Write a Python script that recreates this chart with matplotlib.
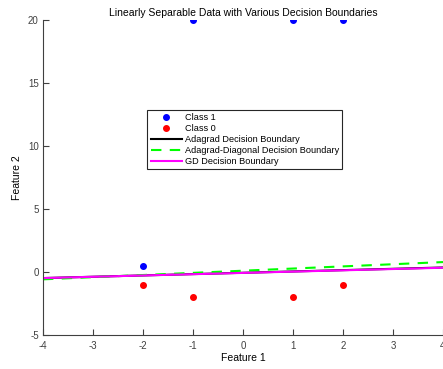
import matplotlib
matplotlib.use("Agg")
import matplotlib.pyplot as plt

plt.rcParams['font.family'] = ['Liberation Sans', 'DejaVu Sans']
plt.rcParams['axes.unicode_minus'] = False

# data points
class1_x = [-1, 1, 2, -2]
class1_y = [20, 20, 20, 0.5]
class0_x = [-2, -1, 1, 2]
class0_y = [-1, -2, -2, -1]

# decision boundaries (endpoints over the x range)
line_x = [-4, 4]
adagrad_y = [-0.48, 0.36]
adadiag_y = [-0.58, 0.79]
gd_y = [-0.48, 0.34]

fig = plt.figure(figsize=(4.43, 3.69), dpi=100)
ax = fig.add_axes([0.097, 0.092, 0.903, 0.854])

ax.plot(class1_x, class1_y, 'o', color='#0000ff', markersize=4, label='Class 1')
ax.plot(class0_x, class0_y, 'o', color='#ff0000', markersize=4, label='Class 0')
ax.plot(line_x, adagrad_y, '-', color='black', lw=1.5, label='Adagrad Decision Boundary')
ax.plot(line_x, adadiag_y, '--', color='#00ff00', lw=1.5, dashes=(5, 4), label='Adagrad-Diagonal Decision Boundary')
ax.plot(line_x, gd_y, '-', color='#ff00ff', lw=1.5, label='GD Decision Boundary')

ax.set_xlim(-4, 4)
ax.set_ylim(-5, 20)
ax.set_xticks(range(-4, 5))
ax.set_yticks([-5, 0, 5, 10, 15, 20])

for s in ['top', 'right']:
    ax.spines[s].set_visible(False)
for s in ['left', 'bottom']:
    ax.spines[s].set_color('#404040')
    ax.spines[s].set_linewidth(0.8)
ax.tick_params(direction='in', length=4, width=0.8, colors='#404040', labelsize=7)
ax.tick_params(axis='x', pad=4)
ax.tick_params(axis='y', pad=3)

ax.set_title('Linearly Separable Data with Various Decision Boundaries', fontsize=7.5, pad=3)
ax.set_xlabel('Feature 1', fontsize=7.5, labelpad=2)
ax.set_ylabel('Feature 2', fontsize=7.5, labelpad=4)

leg = ax.legend(loc='upper left', bbox_to_anchor=(0.26, 0.715), fontsize=6.6,
                frameon=True, fancybox=False, edgecolor='#262626', framealpha=1,
                borderpad=0.4, labelspacing=0.2, handlelength=3.4, handletextpad=0.3,
                borderaxespad=0)
leg.get_frame().set_linewidth(0.8)

fig.savefig('out.png', dpi=100)
